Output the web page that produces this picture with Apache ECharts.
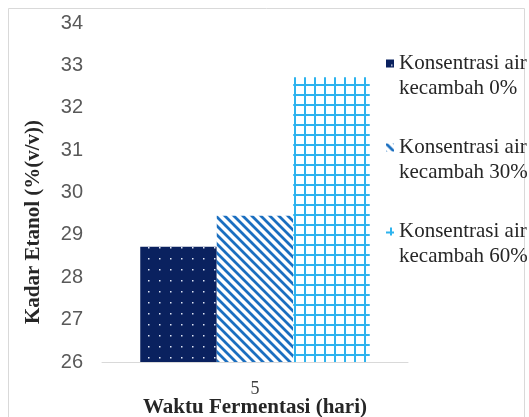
<!DOCTYPE html>
<html>
<head>
  <meta charset="UTF-8">
  <title>Kadar Etanol</title>
  <style>
    html, body { padding: 0; margin: 0; background: #fff; }
    #myChart { width: 529px; height: 417px; }
  </style>
</head>
<body>
  <div id="myChart"></div>
  <script src="https://cdn.jsdelivr.net/npm/echarts@6/dist/echarts.min.js"></script>
  <script>
    const categories = ['5'];
    const seriesNames = ['Konsentrasi air\nkecambah 0%', 'Konsentrasi air\nkecambah 30%', 'Konsentrasi air\nkecambah 60%'];
    const values0 = [28.72];
    const values30 = [29.45];
    const values60 = [32.72];

    // pattern tiles
    function tile(size, draw) {
      const c = document.createElement('canvas');
      c.width = size; c.height = size;
      draw(c.getContext('2d'), size);
      return c;
    }
    const dots = tile(11, (g, s) => {
      g.fillStyle = '#0a215f';
      g.fillRect(0, 0, s, s);
      g.fillStyle = '#dfe6f5';
      g.fillRect(5, 5, 1.5, 1.5);
    });
    const stripes = tile(9, (g, s) => {
      g.fillStyle = '#fff';
      g.fillRect(0, 0, s, s);
      g.strokeStyle = '#1b6fc0';
      g.lineWidth = 2.8;
      g.beginPath();
      g.moveTo(-2, -2); g.lineTo(s + 2, s + 2);
      g.moveTo(-2, s - 2); g.lineTo(2, s + 2);
      g.moveTo(s - 2, -2); g.lineTo(s + 2, 2);
      g.stroke();
    });
    const grid = tile(10, (g, s) => {
      g.fillStyle = '#fff';
      g.fillRect(0, 0, s, s);
      g.fillStyle = '#2db3ee';
      g.fillRect(4, 0, 2, s);
      g.fillRect(0, 4, s, 2);
    });

    const myChart = echarts.init(document.getElementById('myChart'));
    const serif = '"Liberation Serif", "DejaVu Serif", serif';
    const option = {
      animation: false,
      backgroundColor: '#fff',
      graphic: [{
        type: 'rect',
        shape: { x: 8.5, y: 8.5, width: 516, height: 420 },
        style: { fill: 'none', stroke: '#d9d9d9', lineWidth: 1 },
        z: -1
      }, {
        // y axis title, placed lower than the plot middle like the original
        type: 'text',
        x: 34,
        y: 222,
        rotation: Math.PI / 2,
        style: {
          text: 'Kadar Etanol (%(v/v))',
          fontFamily: serif,
          fontWeight: 'bold',
          fontSize: 21,
          fill: '#262626',
          align: 'center',
          verticalAlign: 'middle'
        }
      }],
      grid: { left: 102, right: 121, top: 23, bottom: 55, outerBoundsMode: 'none' },
      legend: {
        orient: 'vertical',
        left: 381,
        top: 21,
        itemWidth: 8,
        itemHeight: 8,
        itemGap: 9,
        icon: 'rect',
        formatter: name => '\n' + name,
        textStyle: {
          fontFamily: serif,
          fontSize: 21,
          color: '#262626',
          lineHeight: 25
        },
        data: seriesNames
      },
      xAxis: {
        type: 'category',
        data: categories,
        name: 'Waktu Fermentasi (hari)',
        nameLocation: 'middle',
        nameGap: 35,
        nameMoveOverlap: false,
        nameTextStyle: { fontFamily: serif, fontWeight: 'bold', fontSize: 21, color: '#262626' },
        axisLine: { lineStyle: { color: '#d9d9d9' } },
        axisTick: { show: false },
        axisLabel: { fontFamily: serif, fontSize: 18, color: '#404040', margin: 18 }
      },
      yAxis: {
        type: 'value',
        min: 26,
        max: 34,
        interval: 1,
        splitLine: { show: false },
        axisLine: { show: false },
        axisTick: { show: false },
        axisLabel: { fontFamily: '"Liberation Sans", Arial, sans-serif', fontSize: 20, color: '#595959', margin: 19 }
      },
      series: [{
        name: seriesNames[0],
        type: 'bar',
        barGap: '0%',
        barCategoryGap: '25%',
        data: values0,
        itemStyle: { color: { image: dots, repeat: 'repeat' } }
      }, {
        name: seriesNames[1],
        type: 'bar',
        data: values30,
        itemStyle: { color: { image: stripes, repeat: 'repeat' } }
      }, {
        name: seriesNames[2],
        type: 'bar',
        data: values60,
        itemStyle: { color: { image: grid, repeat: 'repeat' } }
      }]
    };
    myChart.setOption(option);
  </script>
</body>
</html>
